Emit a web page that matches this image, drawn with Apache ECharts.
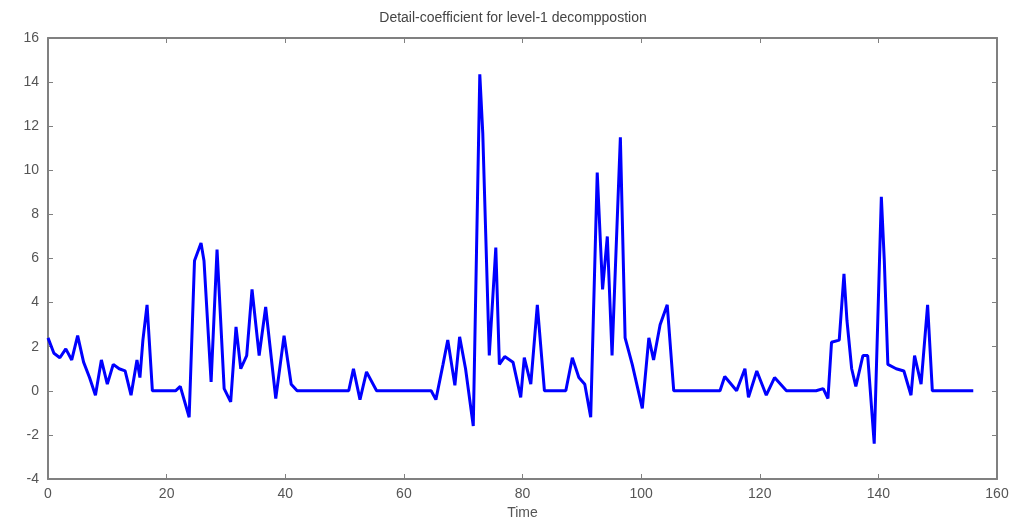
<!DOCTYPE html>
<html>
<head>
<meta charset="utf-8">
<script src="https://cdn.jsdelivr.net/npm/echarts@6/dist/echarts.min.js"></script>
<style>
    html, body { margin: 0; padding: 0; background: #fff; }
    #chart { width: 1026px; height: 528px; }
</style>
</head>
<body>
<div id="chart"></div>
<script>
// time positions and detail coefficients
var times = [
    0, 1, 2, 3, 4, 5, 6, 7, 8, 9, 10, 11, 12, 13, 14, 15, 15.5, 16, 16.7, 17.6,
    21.5, 22.3, 23.8, 24.7, 25.8, 26.3, 27.5, 28.5, 29.7, 30.8, 31.7, 32.5, 33.5, 34.4, 35.6, 36.7, 38.4, 39.8, 41, 42,
    50.7, 51.5, 52.6, 53.7, 55.4,
    64.6, 65.4, 66.6, 67.4, 68.6, 69.4, 70.4, 71.7, 72.8, 73.3, 73.8, 74.4, 75.5, 76.1, 77, 78.4, 79.7, 80.3, 81.4, 82.5, 83.7,
    87.3, 88.4, 89.5, 90.5, 91.5, 92.6, 93.5, 94.3, 95.1, 96.5, 97.3, 98.5, 100.2, 101.3, 102.1, 103.2, 104.4, 105.5,
    113.3, 114.1, 116.1, 117.5, 118.1, 119.5, 121.1, 122.5, 124.5,
    129.5, 130.7, 131.5, 132.1, 133.4, 134.2, 134.7, 135.5, 136.2, 137.4, 138.2, 139.3, 140.5, 141, 141.6, 143, 144.3,
    145.5, 146.1, 147.2, 148.3, 149.1, 156
];
var coeffs = [
    2.4, 1.7, 1.5, 1.9, 1.4, 2.5, 1.3, 0.6, -0.2, 1.4, 0.3, 1.2, 1.0, 0.9, -0.2, 1.4, 0.6, 2.3, 3.9, 0,
    0, 0.2, -1.2, 5.9, 6.7, 5.9, 0.4, 6.4, 0.1, -0.5, 2.9, 1.0, 1.6, 4.6, 1.6, 3.8, -0.35, 2.5, 0.3, 0,
    0, 1.0, -0.4, 0.86, 0,
    0, -0.4, 1.2, 2.3, 0.25, 2.45, 1.0, -1.6, 14.35, 11.7, 7.1, 1.6, 6.5, 1.2, 1.55, 1.3, -0.3, 1.5, 0.3, 3.9, 0,
    0, 1.5, 0.6, 0.3, -1.2, 9.9, 4.6, 7.0, 1.6, 11.5, 2.4, 1.2, -0.8, 2.4, 1.4, 3.0, 3.9, 0,
    0, 0.65, 0, 1.0, -0.3, 0.9, -0.2, 0.6, 0,
    0, 0.1, -0.35, 2.2, 2.3, 5.3, 3.2, 1.0, 0.2, 1.6, 1.6, -2.4, 8.8, 5.9, 1.2, 1.0, 0.9,
    -0.2, 1.6, 0.3, 3.9, 0, 0
];

showChart();

function showChart() {
    var chart = echarts.init(document.getElementById('chart'));

    var points = [];
    for (var i = 0; i < times.length; i++) {
        points.push([times[i], coeffs[i]]);
    }

    var axisColor = '#808080';
    var labelStyle = { color: '#555', fontSize: 14, fontFamily: 'Liberation Sans, Arial, sans-serif' };

    // matlab style box: ticks inside, frame on all four sides
    var option = {
        animation: false,
        title: {
            text: 'Detail-coefficient for level-1 decomppostion',
            left: 'center',
            top: 6,
            textStyle: { color: '#444', fontSize: 14, fontWeight: 'normal', fontFamily: 'Liberation Sans, Arial, sans-serif' }
        },
        grid: { left: 48, right: 29, top: 38, bottom: 49 },
        xAxis: [{
            type: 'value',
            min: 0, max: 160, interval: 20,
            name: 'Time',
            nameLocation: 'middle',
            nameGap: 24,
            nameTextStyle: labelStyle,
            axisLine: { onZero: false, lineStyle: { color: axisColor, width: 2 } },
            axisTick: { inside: true, length: 5, lineStyle: { color: axisColor } },
            axisLabel: Object.assign({ margin: 8 }, labelStyle),
            splitLine: { show: false }
        }, {
            type: 'value',
            position: 'top',
            min: 0, max: 160, interval: 20,
            axisLine: { onZero: false, lineStyle: { color: axisColor, width: 2 } },
            axisTick: { inside: true, length: 5, lineStyle: { color: axisColor } },
            axisLabel: { show: false },
            splitLine: { show: false }
        }],
        yAxis: [{
            type: 'value',
            min: -4, max: 16, interval: 2,
            axisLine: { show: true, onZero: false, lineStyle: { color: axisColor, width: 2 } },
            axisTick: { show: true, inside: true, length: 5, lineStyle: { color: axisColor } },
            axisLabel: Object.assign({ margin: 9 }, labelStyle),
            splitLine: { show: false }
        }, {
            type: 'value',
            position: 'right',
            min: -4, max: 16, interval: 2,
            axisLine: { show: true, onZero: false, lineStyle: { color: axisColor, width: 2 } },
            axisTick: { show: true, inside: true, length: 5, lineStyle: { color: axisColor } },
            axisLabel: { show: false },
            splitLine: { show: false }
        }],
        series: [{
            type: 'line',
            data: points,
            showSymbol: false,
            lineStyle: { color: '#0000ff', width: 3 },
            z: 1
        }]
    };
    chart.setOption(option);
}
</script>
</body>
</html>
